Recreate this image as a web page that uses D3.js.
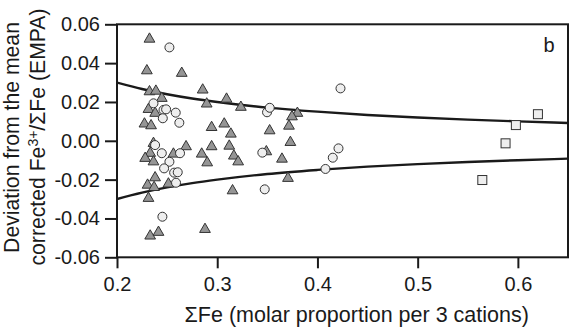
<!DOCTYPE html>
<html>
<head>
<meta charset="utf-8">
<script src="https://cdn.jsdelivr.net/npm/d3@7"></script>
<style>
html,body{margin:0;padding:0;background:#fff;}
svg{display:block;}
text{font-family:"Liberation Sans",Arial,Helvetica,sans-serif;fill:#1a1a1a;}
</style>
</head>
<body>
<svg id="chart" width="571" height="328"></svg>
<script>
// ---- data ----
const xTicks = [0.2, 0.3, 0.4, 0.5, 0.6];
const yTicks = [-0.06, -0.04, -0.02, 0.00, 0.02, 0.04, 0.06];

const triangleX = [0.2324,0.2298,0.2646,0.2324,0.2388,0.2447,0.2855,0.2895,0.3093,0.3236,0.2314,0.2381,0.2274,0.2340,0.2944,0.3070,0.3136,0.3523,0.3800,0.3746,0.3716,
  0.3490,0.3730,0.3646,0.3706,0.2364,0.2689,0.2331,0.2281,0.2364,0.2563,0.2380,0.2305,0.2370,0.2513,0.2314,0.2331,0.2414,0.2878,0.2845,0.2944,0.2900,0.3120,0.3166,0.3209,0.3153];
const triangleY = [0.0524,0.0361,0.0348,0.0253,0.0256,0.0219,0.0262,0.0190,0.0215,0.0173,0.0162,0.0142,0.0087,0.0078,0.0069,0.0087,0.0035,0.0052,0.0142,0.0124,0.0076,
  -0.0056,-0.0008,-0.0094,-0.0193,-0.0013,-0.0030,-0.0064,-0.0090,-0.0108,-0.0068,-0.0190,-0.0228,-0.0240,-0.0222,-0.0296,-0.0490,-0.0471,-0.0456,-0.0068,-0.0030,-0.0113,-0.0027,-0.0078,-0.0108,-0.0257];

const circleX = [0.2523,0.2364,0.2464,0.2490,0.2586,0.2457,0.2622,0.3497,0.3524,0.4230,0.2380,0.2447,0.2629,0.2523,0.2470,0.2570,0.2606,0.2589,0.2453,0.3450,0.3474,0.4080,0.4153,0.4210];
const circleY = [0.0481,0.0193,0.0159,0.0162,0.0145,0.0116,0.0093,0.0147,0.0170,0.0270,-0.0022,-0.0064,-0.0064,-0.0108,-0.0142,-0.0164,-0.0162,-0.0216,-0.0391,-0.0061,-0.0250,-0.0145,-0.0087,-0.0039];

const squareX = [0.6200,0.5980,0.5877,0.5645];
const squareY = [0.0137,0.0081,-0.0013,-0.0202];

const envX = [0.2,0.225,0.25,0.275,0.3,0.35,0.4,0.45,0.5,0.55,0.6,0.65];
const envUpper = [0.0300,0.0267,0.0240,0.0218,0.0200,0.0171,0.0150,0.0133,0.0120,0.0109,0.0100,0.0092];
const envLower = [-0.0300,-0.0267,-0.0240,-0.0218,-0.0200,-0.0171,-0.0150,-0.0133,-0.0120,-0.0109,-0.0100,-0.0092];

// ---- drawing ----
const svg = d3.select("#chart");
const L = 117, R = 568, T = 24.3, B = 257.3;
const x = d3.scaleLinear().domain([0.2, 0.65]).range([L, R]);
const y = d3.scaleLinear().domain([-0.06, 0.06]).range([B, T]);
const ink = "#1a1a1a";

svg.append("clipPath").attr("id","clip").append("rect")
  .attr("x",L).attr("y",T).attr("width",R-L).attr("height",B-T);

// envelope curves
const line = d3.line().x(d=>x(d[0])).y(d=>y(d[1])).curve(d3.curveMonotoneX);
const g = svg.append("g").attr("clip-path","url(#clip)");
g.append("path").datum(envX.map((v,i)=>[v,envUpper[i]]))
  .attr("d",line).attr("fill","none").attr("stroke",ink).attr("stroke-width",2.4);
g.append("path").datum(envX.map((v,i)=>[v,envLower[i]]))
  .attr("d",line).attr("fill","none").attr("stroke",ink).attr("stroke-width",2.4);

// triangles
const tri = d3.symbol().type(d3.symbolTriangle).size(50);
g.selectAll(".tri").data(triangleX.map((v,i)=>[v,triangleY[i]])).enter()
  .append("path").attr("d",tri)
  .attr("transform",d=>`translate(${x(d[0])},${y(d[1])})`)
  .attr("fill","#959595").attr("stroke","#333").attr("stroke-width",1);

// circles
g.selectAll(".cir").data(circleX.map((v,i)=>[v,circleY[i]])).enter()
  .append("circle").attr("cx",d=>x(d[0])).attr("cy",d=>y(d[1])).attr("r",4.5)
  .attr("fill","#eeeeee").attr("stroke","#333").attr("stroke-width",1);

// squares
const sq = 9;
g.selectAll(".sq").data(squareX.map((v,i)=>[v,squareY[i]])).enter()
  .append("rect").attr("x",d=>x(d[0])-sq/2).attr("y",d=>y(d[1])-sq/2)
  .attr("width",sq).attr("height",sq)
  .attr("fill","#eeeeee").attr("stroke","#333").attr("stroke-width",1);

// frame
svg.append("rect").attr("x",L).attr("y",T).attr("width",R-L).attr("height",B-T)
  .attr("fill","none").attr("stroke",ink).attr("stroke-width",2);

// y axis
const yAxis = d3.axisLeft(y).tickValues(yTicks).tickSize(12).tickPadding(5);
const ya = svg.append("g").attr("transform",`translate(${L},0)`).call(yAxis);
ya.select(".domain").remove();
ya.selectAll("line").attr("stroke",ink).attr("stroke-width",2);
ya.selectAll("text").attr("font-size",20).attr("fill",ink)
  .text(d=> Math.abs(d) < 1e-9 ? "0.00" : d3.format(".2f")(d).replace("−","-"));

// x axis
const xAxis = d3.axisBottom(x).tickValues(xTicks).tickFormat(d3.format(".1f")).tickSize(11).tickPadding(9);
const xa = svg.append("g").attr("transform",`translate(0,${B})`).call(xAxis);
xa.select(".domain").remove();
xa.selectAll("line").attr("stroke",ink).attr("stroke-width",2);
xa.selectAll("text").attr("font-size",20).attr("fill",ink);

// axis titles
svg.append("text").attr("x",356.7).attr("y",322).attr("text-anchor","middle")
  .attr("font-size",21.5).text("ΣFe (molar proportion per 3 cations)");

const yl = svg.append("text").attr("transform","translate(19,137.5) rotate(-90)")
  .attr("text-anchor","middle").attr("font-size",21.2);
yl.append("tspan").text("Deviation from the mean");
const yl2 = svg.append("text").attr("transform","translate(45,137) rotate(-90)")
  .attr("text-anchor","middle").attr("font-size",21.2);
yl2.append("tspan").text("corrected Fe");
yl2.append("tspan").attr("font-size",14).attr("dy",-7.5).text("3+");
yl2.append("tspan").attr("dy",7.5).text("/ΣFe (EMPA)");

// panel letter
svg.append("text").attr("x",549).attr("y",52).attr("text-anchor","middle")
  .attr("font-size",20).text("b");
</script>
</body>
</html>
